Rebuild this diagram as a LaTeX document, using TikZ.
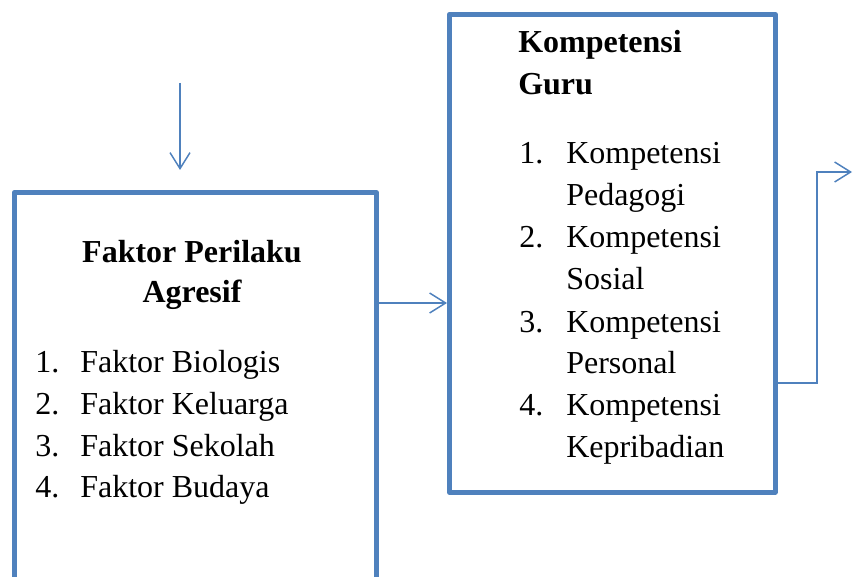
\documentclass[tikz,border=0pt]{standalone}
\usepackage{fontspec}
\setmainfont{Liberation Serif}
\usetikzlibrary{arrows.meta}
\definecolor{boxblue}{RGB}{79,129,189}
\definecolor{arrowblue}{RGB}{79,129,189}
\tikzset{
  box/.style={draw=boxblue, line width=3.5pt, line join=round, inner sep=0pt, anchor=north west},
  txt/.style={inner sep=0pt, anchor=base west, font=\fontsize{24pt}{31pt}\selectfont},
  ttl/.style={inner sep=0pt, anchor=base, font=\fontsize{24pt}{31pt}\selectfont\bfseries},
  conn/.style={draw=arrowblue, line width=1.1pt, -{Straight Barb[length=12pt,width=15pt,line width=1.1pt]}}
}
\begin{document}
\begin{tikzpicture}[x=0.75pt,y=-0.75pt]
\useasboundingbox (0,0) rectangle (853,577);
% boxes
\node[box, minimum width=362*0.75pt, minimum height=388*0.75pt] (L) at (12,190) {};
\node[box, minimum width=326*0.75pt, minimum height=478*0.75pt] (R) at (447,12) {};
% left box text
\node[ttl] (lt1) at (192,263) {Faktor Perilaku};
\node[ttl] (lt2) at (192,303) {Agresif};
\node[txt] (ln1) at (35,372) {1.};
\node[txt] (li1) at (80,372) {Faktor Biologis};
\node[txt] (ln2) at (35,414) {2.};
\node[txt] (li2) at (80,414) {Faktor Keluarga};
\node[txt] (ln3) at (35,456) {3.};
\node[txt] (li3) at (80,456) {Faktor Sekolah};
\node[txt] (ln4) at (35,497) {4.};
\node[txt] (li4) at (80,497) {Faktor Budaya};
% right box text
\node[txt, font=\fontsize{24pt}{31pt}\selectfont\bfseries] (rt1) at (518,53) {Kompetensi};
\node[txt, font=\fontsize{24pt}{31pt}\selectfont\bfseries] (rt2) at (518,95) {Guru};
\node[txt] (rn1) at (519,164) {1.};
\node[txt] (ri1a) at (566,164) {Kompetensi};
\node[txt] (ri1b) at (566,206) {Pedagogi};
\node[txt] (rn2) at (519,248) {2.};
\node[txt] (ri2a) at (566,248) {Kompetensi};
\node[txt] (ri2b) at (566,290) {Sosial};
\node[txt] (rn3) at (519,332) {3.};
\node[txt] (ri3a) at (566,332) {Kompetensi};
\node[txt] (ri3b) at (566,373) {Personal};
\node[txt] (rn4) at (519,415) {4.};
\node[txt] (ri4a) at (566,415) {Kompetensi};
\node[txt] (ri4b) at (566,457) {Kepribadian};
% connectors
\coordinate (topstart) at (180,83);
\coordinate (topend) at (180,170);
\draw[conn] (topstart) -- (topend);
\coordinate (midstart) at (379,303);
\draw[conn] (midstart) -- (R.west |- midstart);
\coordinate (outstart) at (775,383);
\coordinate (outend) at (852,172);
\draw[conn] (outstart) -- (817,383) -- (817,172) -- (outend);
\end{tikzpicture}
\end{document}
